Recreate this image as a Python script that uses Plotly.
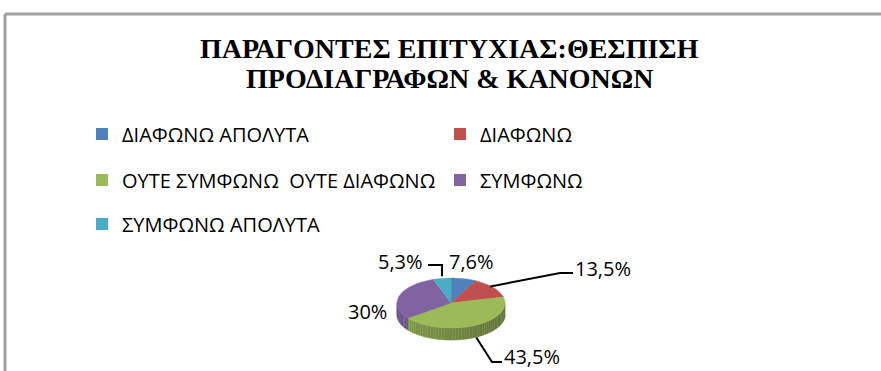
import math
import plotly.graph_objects as go

# Survey answers and their shares (%)
categories = [
    "ΔΙΑΦΩΝΩ ΑΠΟΛΥΤΑ",
    "ΔΙΑΦΩΝΩ",
    "ΟΥΤΕ ΣΥΜΦΩΝΩ \u00a0ΟΥΤΕ ΔΙΑΦΩΝΩ",
    "ΣΥΜΦΩΝΩ",
    "ΣΥΜΦΩΝΩ ΑΠΟΛΥΤΑ",
]
values = [7.6, 13.5, 43.5, 30, 5.3]
colors = ["#4F81BD", "#C0504D", "#9BBB59", "#8064A2", "#4BACC6"]
title_lines = ["ΠΑΡΑΓΟΝΤΕΣ ΕΠΙΤΥΧΙΑΣ:ΘΕΣΠΙΣΗ", "ΠΡΟΔΙΑΓΡΑΦΩΝ & ΚΑΝΟΝΩΝ"]

W, H = 881, 371
# Pie geometry (pixel units on hidden axes)
CX, CY, RX, RY, DEPTH = 451, 303, 54, 25, 12
LABEL_FONT = dict(family="Open Sans", size=20, color="#000000")


def shade(hex_color, f):
    r, g, b = (int(hex_color[i:i + 2], 16) for i in (1, 3, 5))
    return "rgb(%d,%d,%d)" % (min(255, r * f), min(255, g * f), min(255, b * f))


def rim(theta, drop=0.0):
    return CX + RX * math.sin(theta), CY - RY * math.cos(theta) + drop


def fmt(v):
    s = ("%d" % v) if float(v).is_integer() else ("%.1f" % v)
    return s.replace(".", ",") + "%"


fig = go.Figure()

total = sum(values)
bounds = []
acc = 0.0
for v in values:
    a0 = acc / total * 2 * math.pi
    acc += v
    a1 = acc / total * 2 * math.pi
    bounds.append((a0, a1))

# Front walls of the tilted pie, shaded in narrow strips
for (a0, a1), col in zip(bounds, colors):
    lo, hi = max(a0, math.pi / 2), min(a1, 3 * math.pi / 2)
    if hi <= lo:
        continue
    n = max(2, int((hi - lo) / math.radians(3)))
    for k in range(n):
        t0 = lo + (hi - lo) * k / n
        t1 = lo + (hi - lo) * (k + 1) / n
        tm = (t0 + t1) / 2
        f = 0.62 + 0.22 * (0.5 - 0.5 * math.sin(tm))
        xs, ys = [], []
        for t in (t0, t1):
            x, y = rim(t)
            xs.append(x)
            ys.append(y)
        for t in (t1, t0):
            x, y = rim(t, DEPTH)
            xs.append(x)
            ys.append(y)
        fig.add_trace(go.Scatter(
            x=xs, y=ys, mode="lines", fill="toself",
            fillcolor=shade(col, f), line=dict(width=0.6, color=shade(col, f)),
            showlegend=False, hoverinfo="skip"))

# Top faces of the slices
for (a0, a1), col, name, v in zip(bounds, colors, categories, values):
    n = max(4, int((a1 - a0) / math.radians(2)))
    xs, ys = [CX], [CY]
    for k in range(n + 1):
        x, y = rim(a0 + (a1 - a0) * k / n)
        xs.append(x)
        ys.append(y)
    xs.append(CX)
    ys.append(CY)
    fig.add_trace(go.Scatter(
        x=xs, y=ys, mode="lines", fill="toself", fillcolor=col,
        line=dict(width=0.5, color=col), name=name, showlegend=False,
        hovertemplate="%s: %s<extra></extra>" % (name, fmt(v))))

# Legend entries, one legend per slot so rows can be spaced freely
legend_slots = [(82, 134), (440, 134), (82, 180), (440, 180), (82, 224)]
legend_keys = ["legend", "legend2", "legend3", "legend4", "legend5"]
for name, col, key in zip(categories, colors, legend_keys):
    fig.add_trace(go.Scatter(
        x=[None], y=[None], mode="markers", name=name, legend=key,
        marker=dict(symbol="square", size=12, color=col)))

legend_layout = {}
for (lx, ly), key in zip(legend_slots, legend_keys):
    legend_layout[key] = dict(
        x=lx / W, y=1 - ly / H, xanchor="left", yanchor="middle",
        font=LABEL_FONT, bgcolor="rgba(0,0,0,0)", borderwidth=0)

# Data labels and leader lines
mid = [(a0 + a1) / 2 for a0, a1 in bounds]
label_pos = [(471, 261, "center"), (573, 268, "left"), (502, 356, "left"),
             (367, 311, "center"), (400, 261, "center")]
for v, (lx, ly, anc) in zip(values, label_pos):
    fig.add_annotation(x=lx, y=ly, text=fmt(v), showarrow=False,
                       xanchor=anc, yanchor="middle", font=LABEL_FONT)

leader_color = "#000000"
# ΔΙΑΦΩΝΩ
sx, sy = rim(mid[1])
fig.add_trace(go.Scatter(x=[sx - 3, 560, 573], y=[sy - 1, 273, 273], mode="lines",
                         line=dict(color=leader_color, width=2),
                         showlegend=False, hoverinfo="skip"))
# ΟΥΤΕ ΣΥΜΦΩΝΩ ΟΥΤΕ ΔΙΑΦΩΝΩ
sx, sy = rim(mid[2], DEPTH)
fig.add_trace(go.Scatter(x=[sx + 2, 492, 502], y=[sy, 362, 362], mode="lines",
                         line=dict(color=leader_color, width=2),
                         showlegend=False, hoverinfo="skip"))
# ΣΥΜΦΩΝΩ ΑΠΟΛΥΤΑ
sx, sy = rim(mid[4])
fig.add_trace(go.Scatter(x=[428, sx, sx], y=[265, 265, sy - 2], mode="lines",
                         line=dict(color=leader_color, width=2),
                         showlegend=False, hoverinfo="skip"))

# Title, two lines
for txt, ty in zip(title_lines, (48.5, 78)):
    fig.add_annotation(x=449, y=ty, text="<b>%s</b>" % txt, showarrow=False,
                       xanchor="center", yanchor="middle",
                       font=dict(family="Liberation Serif", size=28, color="#000000"))

# Chart frame (top and left edges)
fig.add_shape(type="line", x0=5, y0=14, x1=W, y1=14,
              line=dict(color="#A0A0A0", width=3))
fig.add_shape(type="line", x0=5, y0=14, x1=5, y1=H,
              line=dict(color="#A0A0A0", width=3))

fig.update_layout(
    width=W, height=H,
    margin=dict(l=0, r=0, t=0, b=0),
    paper_bgcolor="#FFFFFF", plot_bgcolor="#FFFFFF",
    xaxis=dict(range=[0, W], visible=False, fixedrange=True),
    yaxis=dict(range=[H, 0], visible=False, fixedrange=True),
    **legend_layout,
)

fig.write_html("out.html")
